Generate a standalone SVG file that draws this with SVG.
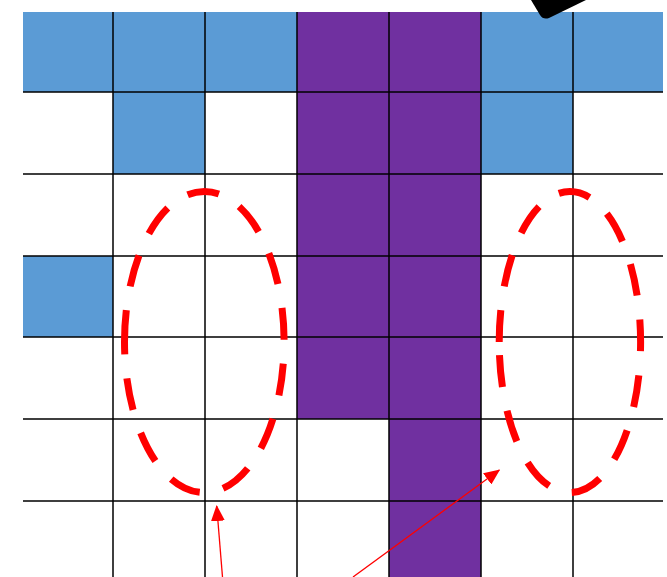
<svg xmlns="http://www.w3.org/2000/svg" width="667" height="577" viewBox="0 0 667 577">
<style>
.blue{fill:#5b9bd5}
.purple{fill:#7030a0}
.grid{stroke:#000;stroke-width:1.5;fill:none}
.ell{fill:none;stroke:#ff0000;stroke-width:7;stroke-dasharray:32 24}
.arr{stroke:#ff0000;stroke-width:1.3;fill:none}
</style>
<defs>
<marker id="ah" viewBox="0 0 16 14" refX="15" refY="7" markerWidth="16" markerHeight="14" markerUnits="userSpaceOnUse" orient="auto">
<path d="M0,0 L16,7 L0,14 z" fill="#ff0000"/>
</marker>
</defs>
<rect width="667" height="577" fill="#fff"/>
<g id="cells">
<rect class="blue" x="23" y="12" width="274" height="80"/>
<rect class="blue" x="481" y="12" width="182" height="80"/>
<rect class="blue" x="113" y="92" width="92" height="82"/>
<rect class="blue" x="481" y="92" width="92" height="82"/>
<rect class="blue" x="23" y="256" width="90" height="81"/>
<rect class="purple" x="297" y="12" width="184" height="407"/>
<rect class="purple" x="389" y="419" width="92" height="158"/>
</g>
<g id="grid" class="grid">
<path d="M23,92H663M23,174H663M23,256H663M23,337H663M23,419H663M23,501H663"/>
<path d="M113,12V577M205,12V577M297,12V577M389,12V577M481,12V577M573,12V577"/>
</g>
<g id="pointer">
<path d="M531,0 L540,15 Q543,20 549,18 L586,0 Z" fill="#000"/>
</g>
<g id="ellipse-left">
<path class="ell" d="M124.5,342 A79.8,150.6 0 0 1 284.1,342 A79.8,150.6 0 0 1 124.5,342"/>
</g>
<g id="ellipse-right">
<path class="ell" d="M499.2,342 A70.7,150.6 0 0 1 640.6,342 A70.7,150.6 0 0 1 499.2,342"/>
</g>
<g id="connectors">
<line class="arr" x1="222.5" y1="577" x2="216.7" y2="506" marker-end="url(#ah)"/>
<line class="arr" x1="353" y1="577" x2="499.3" y2="470" marker-end="url(#ah)"/>
</g>
</svg>
